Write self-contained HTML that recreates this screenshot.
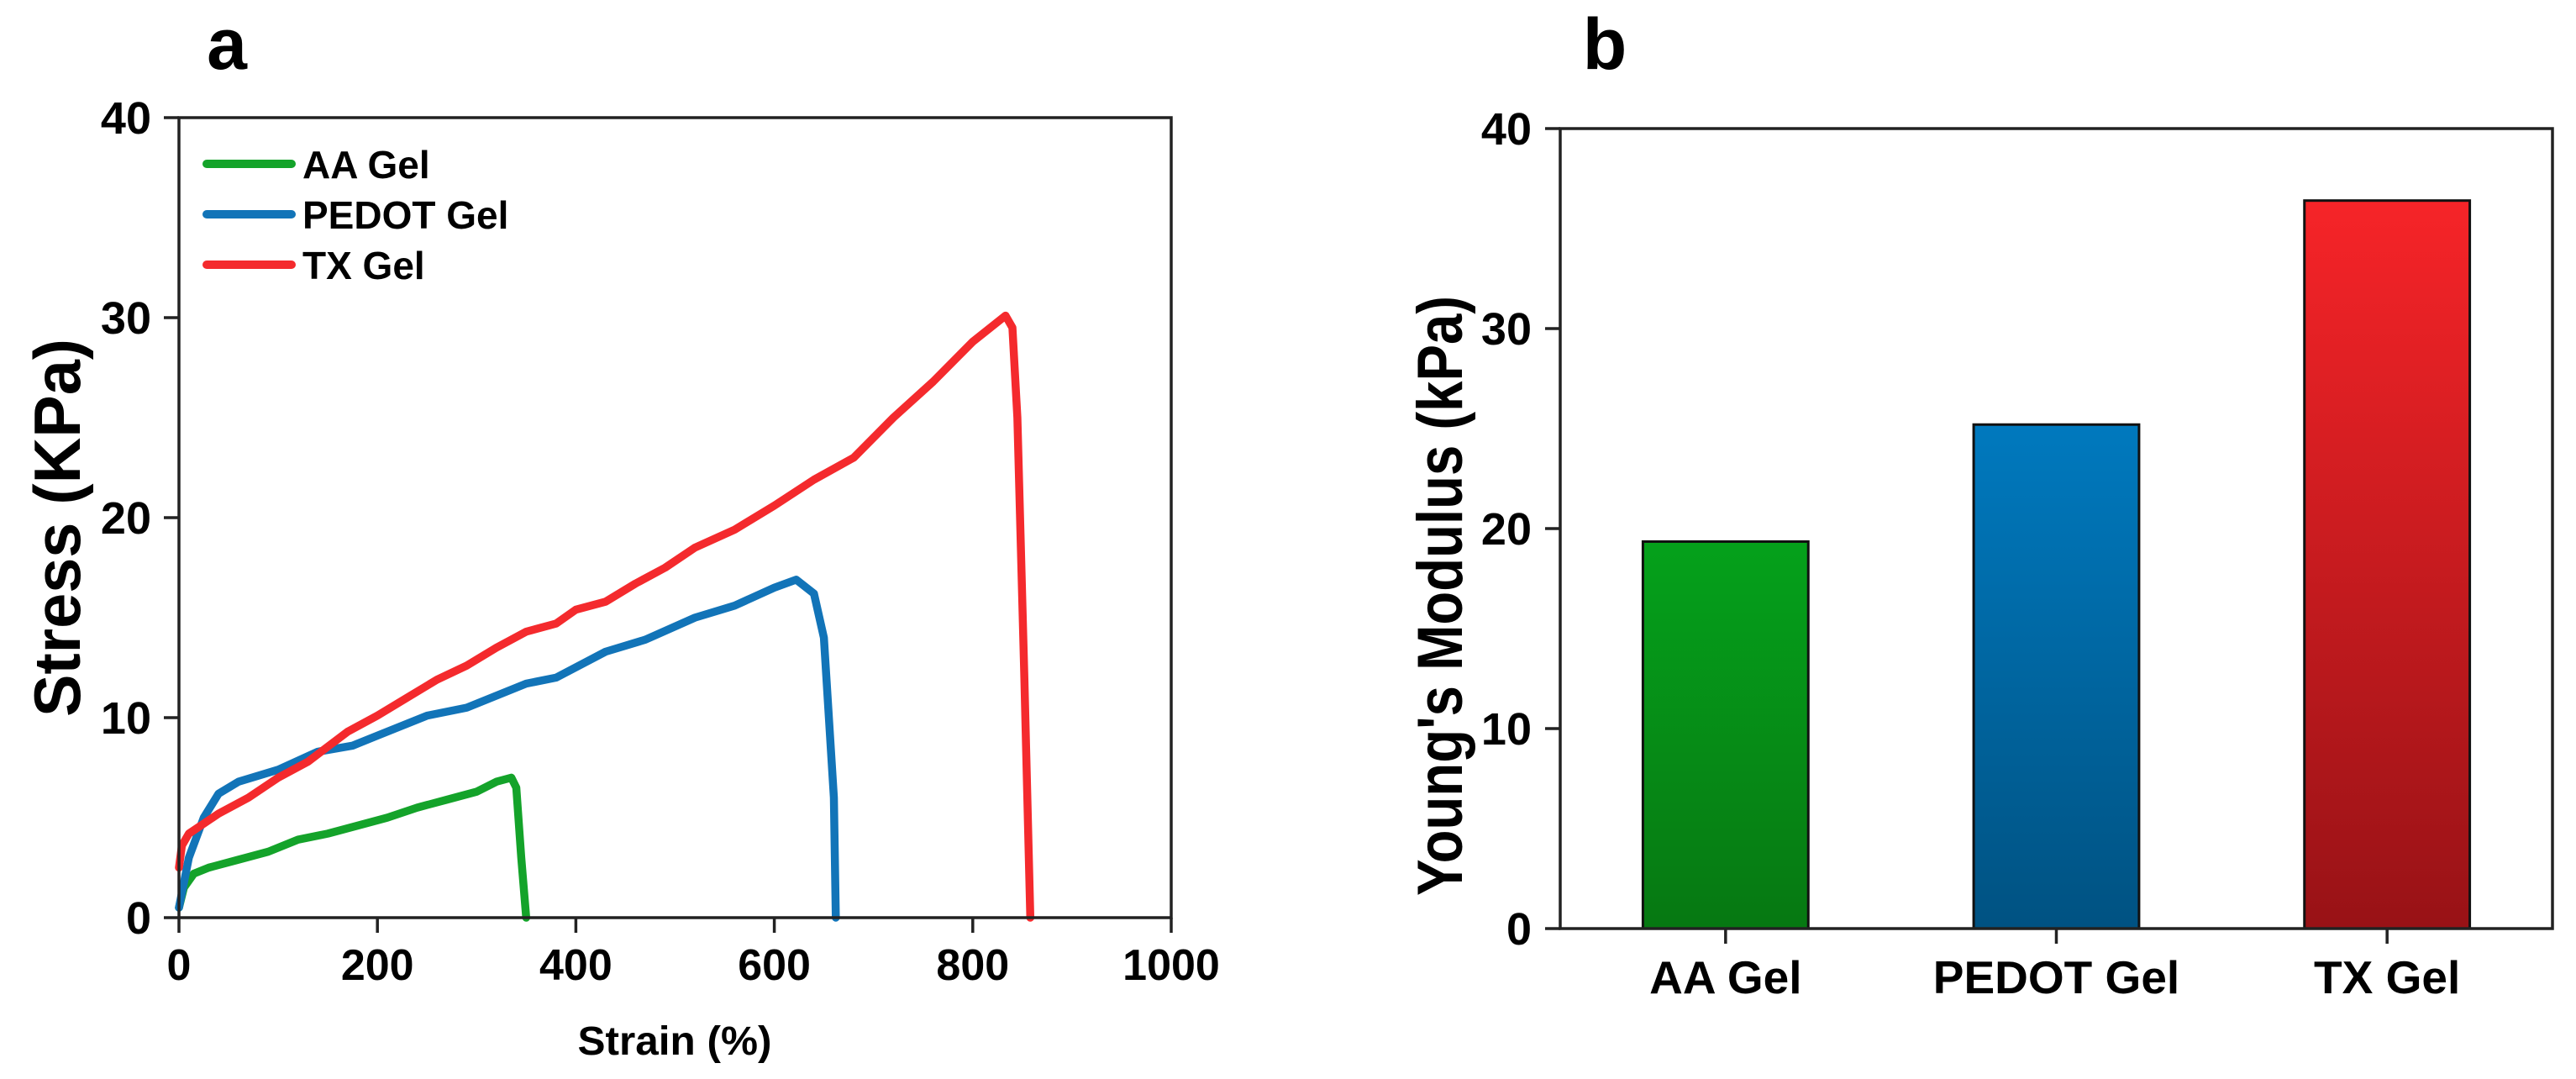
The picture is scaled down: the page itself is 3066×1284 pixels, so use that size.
<!DOCTYPE html>
<html><head><meta charset="utf-8"><style>
html,body{margin:0;padding:0;background:#fff;}
svg{display:block;font-family:"Liberation Sans",Arial,sans-serif;font-weight:bold;}
</style></head><body>
<svg id="fig" width="3066" height="1284" viewBox="0 0 3066 1284" xmlns="http://www.w3.org/2000/svg">
<defs>
<linearGradient id="gGreen" x1="0" y1="0" x2="0" y2="1"><stop offset="0" stop-color="#05a11b"/><stop offset="1" stop-color="#067812"/></linearGradient>
<linearGradient id="gBlue" x1="0" y1="0" x2="0" y2="1"><stop offset="0" stop-color="#0079be"/><stop offset="1" stop-color="#005282"/></linearGradient>
<linearGradient id="gRed" x1="0" y1="0" x2="0" y2="1"><stop offset="0" stop-color="#f62428"/><stop offset="1" stop-color="#981216"/></linearGradient>
</defs>
<g id="panelA"></g>
<g id="panelB"></g>
</svg>
<script>
// ---- Panel a data ----
const xTicksA = [0, 200, 400, 600, 800, 1000];
const yTicksA = [0, 10, 20, 30, 40];
const aaStrain = [0,5,15,30,60,90,120,150,180,210,240,270,300,320,335,340,345,350];
const aaStress = [0.5,1.5,2.2,2.5,2.9,3.3,3.9,4.2,4.6,5.0,5.5,5.9,6.3,6.8,7.0,6.5,3,0];
const pedotStrain = [0,10,25,40,60,100,140,175,200,250,290,350,380,430,470,520,560,600,622,640,650,660,662];
const pedotStress = [0.5,3,5,6.2,6.8,7.4,8.3,8.6,9.1,10.1,10.5,11.7,12.0,13.3,13.9,15.0,15.6,16.5,16.9,16.2,14,6,0];
const txStrain = [0,3,10,40,70,100,130,170,200,230,260,290,320,350,380,400,430,460,490,520,560,600,640,680,720,760,800,833,840,845,852,858];
const txStress = [2.5,3.6,4.2,5.2,6.0,7.0,7.8,9.3,10.1,11.0,11.9,12.6,13.5,14.3,14.7,15.4,15.8,16.7,17.5,18.5,19.4,20.6,21.9,23.0,25.0,26.8,28.8,30.1,29.5,25,12,0];
// ---- Panel b data ----
const categoriesB = ["AA Gel", "PEDOT Gel", "TX Gel"];
const modulusB = [19.35, 25.2, 36.4];
const yTicksB = [0, 10, 20, 30, 40];

const NS = "http://www.w3.org/2000/svg";
function mk(tag, attrs, parent, text){
  const e = document.createElementNS(NS, tag);
  for (const k in attrs) e.setAttribute(k, attrs[k]);
  if (text !== undefined) e.textContent = text;
  parent.appendChild(e);
  return e;
}

// ---------- Panel a ----------
const A = document.getElementById('panelA');
const aL=213, aR=1394, aT=140, aB=1092;
const xA = v => aL + (v-0)/(1000-0)*(aR-aL);
const yA = v => aB - (v-0)/(40-0)*(aB-aT);

let t = mk('text',{x:270,y:82,'font-size':86,'text-anchor':'middle'},A,'a');



function series(xs, ys, color, name){
  let d = xs.map((x,i)=>(i?'L':'M')+xA(x).toFixed(1)+' '+yA(ys[i]).toFixed(1)).join(' ');
  const p = mk('path',{d:d,fill:'none',stroke:color,'stroke-width':9.5,'stroke-linejoin':'round','stroke-linecap':'round'},A);
  
  
}
series(aaStrain, aaStress, '#14a32a', 'aa-gel-curve');
series(pedotStrain, pedotStress, '#1274b8', 'pedot-gel-curve');
series(txStrain, txStress, '#f42a2d', 'tx-gel-curve');

let fr = mk('rect',{x:aL,y:aT,width:aR-aL,height:aB-aT,fill:'none',stroke:'#222','stroke-width':3.5},A);



xTicksA.forEach(v=>{
  const l = mk('line',{x1:xA(v),x2:xA(v),y1:aB,y2:aB+18,stroke:'#222','stroke-width':3.5},A);
  
  
  const tx = mk('text',{x:xA(v),y:1166,'font-size':52,'text-anchor':'middle'},A,String(v));
  
  
});
yTicksA.forEach(v=>{
  const l = mk('line',{x1:aL-18,x2:aL,y1:yA(v),y2:yA(v),stroke:'#222','stroke-width':3.5},A);
  
  
  const tx = mk('text',{x:180,y:yA(v)+19,'font-size':54,'text-anchor':'end'},A,String(v));
  
  
});
t = mk('text',{x:803,y:1255,'font-size':48,'text-anchor':'middle',textLength:231,lengthAdjust:'spacingAndGlyphs'},A,'Strain (%)');


t = mk('text',{x:0,y:0,'font-size':78,'text-anchor':'middle',textLength:450,lengthAdjust:'spacingAndGlyphs',transform:'translate(95,628) rotate(-90)'},A,'Stress (KPa)');



const legNames = ['AA Gel','PEDOT Gel','TX Gel'];
const legColors = ['#14a32a','#1274b8','#f42a2d'];
legNames.forEach((n,i)=>{
  const y = 195 + i*60;
  const g = mk('g',{},A);
  
  
  mk('line',{x1:246,x2:347,y1:y,y2:y,stroke:legColors[i],'stroke-width':10,'stroke-linecap':'round'},g);
  mk('text',{x:360,y:y+17,'font-size':46},g,n);
});

// ---------- Panel b ----------
const B = document.getElementById('panelB');
const bL=1857, bR=3038, bT=153, bB=1105;
const band = (bR-bL)/categoriesB.length;
const xB = i => bL + band*(i+0.5);
const yB = v => bB - v/40*(bB-bT);
const grads = ['url(#gGreen)','url(#gBlue)','url(#gRed)'];

t = mk('text',{x:1910,y:82,'font-size':86,'text-anchor':'middle'},B,'b');



categoriesB.forEach((c,i)=>{
  const w = band*0.5;
  const r = mk('rect',{x:xB(i)-w/2,y:yB(modulusB[i]),width:w,height:bB-yB(modulusB[i]),fill:grads[i],stroke:'#111','stroke-width':3},B);
  
  
  const l = mk('line',{x1:xB(i),x2:xB(i),y1:bB,y2:bB+18,stroke:'#222','stroke-width':3.5},B);
  
  
  const tx = mk('text',{x:xB(i),y:1182,'font-size':55,'text-anchor':'middle'},B,c);
  
  
});
fr = mk('rect',{x:bL,y:bT,width:bR-bL,height:bB-bT,fill:'none',stroke:'#222','stroke-width':3.5},B);


yTicksB.forEach(v=>{
  const l = mk('line',{x1:bL-18,x2:bL,y1:yB(v),y2:yB(v),stroke:'#222','stroke-width':3.5},B);
  
  
  const tx = mk('text',{x:1823,y:yB(v)+19,'font-size':54,'text-anchor':'end'},B,String(v));
  
  
});
t = mk('text',{x:0,y:0,'font-size':76,'text-anchor':'middle',textLength:714,lengthAdjust:'spacingAndGlyphs',transform:'translate(1740,709) rotate(-90)'},B,"Young's Modulus (kPa)");


</script>
</body></html>
